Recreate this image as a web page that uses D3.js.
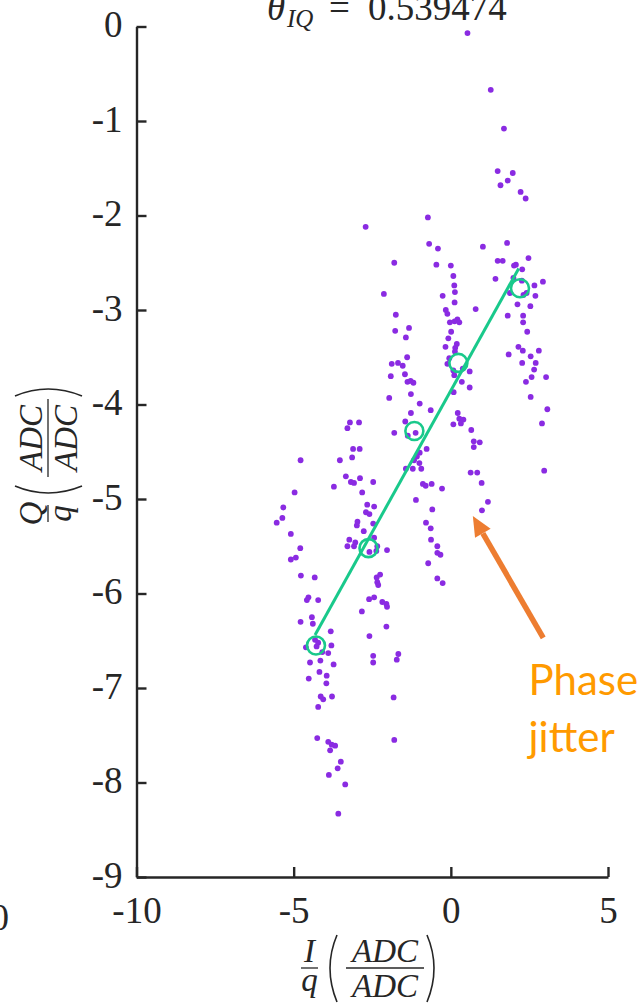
<!DOCTYPE html>
<html>
<head>
<meta charset="utf-8">
<script src="https://cdn.jsdelivr.net/npm/d3@7"></script>
<style>
  html, body { margin: 0; padding: 0; background: #fff; }
  svg { display: block; }
</style>
</head>
<body>
<svg id="chart" width="643" height="1005"></svg>
<script>
// Received samples, normalised in-phase (I) and quadrature (Q) components
const iVals = [
  0.53, 1.27, 1.69, 1.49, 1.97, 1.81, 1.58, 2.22, 2.38, -0.73,
  -2.71, -0.69, -0.41, 1.02, 1.79, -1.80, -0.46, 0.00, 1.49, 1.65,
  2.47, 2.01, 2.07, 2.27, 0.08, 1.42, 1.99, 2.26, 2.93, 2.66,
  0.11, 0.13, -2.13, -0.26, 1.88, 2.31, 2.41, 2.69, 0.12, 2.12,
  2.53, 0.79, -0.16, -0.11, -1.75, 1.81, 2.30, 0.21, 2.30, -0.03,
  0.12, 0.27, -1.33, -1.77, 2.43, 0.01, -1.43, -0.08, 0.19, 0.14,
  -0.17, 2.15, 2.29, 2.80, 0.13, -1.39, 1.84, 2.54, -0.05, -1.88,
  -1.68, -1.53, -0.11, 2.27, 2.70, 0.38, 0.60, 0.08, 2.65, -1.91,
  -1.46, 0.11, 2.57, 3.03, -1.38, -1.28, -1.19, 0.35, 2.39, 0.60,
  0.09, -1.27, -1.96, 2.54, -0.99, -0.64, 0.22, 3.07, -1.27, 0.27,
  0.40, 0.32, 0.08, -3.21, -3.29, -2.92, -1.45, 2.90, 0.65, -1.80,
  -1.12, -1.37, 0.73, 0.92, 0.73, -3.11, -2.90, -0.77, -0.99, -3.14,
  -1.08, -1.00, -4.78, -3.53, -1.17, -1.43, -1.21, -0.94, 0.63, 0.84,
  2.97, -3.34, -2.89, -3.18, -3.08, -2.47, -0.89, -0.80, -0.61, 0.98,
  -3.72, -0.28, -4.97, -2.82, -1.11, 1.18, -2.66, -2.44, -5.33, -0.59,
  0.99, -2.70, -2.59, -5.36, -5.54, -2.97, -2.99, -2.47, -0.79, -0.64,
  -2.77, -5.09, -2.44, -3.23, -3.04, -0.63, -3.29, -3.08, -2.34, -0.43,
  -4.79, -2.03, -2.59, -2.37, -0.43, -0.33, -5.09, -4.93, -0.72, -4.77,
  -4.33, -2.36, -2.25, -2.34, -2.31, -0.43, -0.26, -4.53, -4.22, -2.60,
  -2.44, -4.58, -2.18, -2.05, -2.03, -2.83, -4.78, -4.39, -4.42, -2.05,
  -3.82, -2.59, -4.32, -4.22, -4.27, -4.61, -3.80, -4.09, -3.90, -2.47,
  -2.47, -1.67, -1.72, -4.48, -4.15, -3.73, -4.18, -3.95, -4.52, -3.96,
  -4.14, -4.06, -3.78, -4.22, -1.82, -4.25, -3.90, -3.79, -3.68, -3.84,
  -1.80, -3.50, -3.60, -3.88, -3.36, -3.58
];
const qVals = [
  -0.07, -0.67, -1.08, -1.53, -1.55, -1.63, -1.68, -1.75, -1.82, -2.02,
  -2.12, -2.30, -2.35, -2.33, -2.29, -2.50, -2.52, -2.53, -2.48, -2.48,
  -2.45, -2.53, -2.52, -2.57, -2.64, -2.67, -2.66, -2.69, -2.70, -2.74,
  -2.74, -2.81, -2.83, -2.85, -2.82, -2.84, -2.82, -2.85, -2.92, -2.94,
  -2.96, -2.99, -3.00, -3.04, -3.05, -3.06, -3.06, -3.10, -3.13, -3.13,
  -3.12, -3.13, -3.19, -3.22, -3.23, -3.23, -3.29, -3.30, -3.36, -3.40,
  -3.39, -3.39, -3.43, -3.43, -3.44, -3.50, -3.47, -3.49, -3.51, -3.57,
  -3.56, -3.59, -3.57, -3.56, -3.56, -3.62, -3.65, -3.64, -3.63, -3.70,
  -3.68, -3.69, -3.71, -3.71, -3.76, -3.75, -3.77, -3.76, -3.76, -3.82,
  -3.87, -3.89, -3.93, -3.92, -3.99, -4.06, -4.09, -4.05, -4.09, -4.15,
  -4.16, -4.20, -4.21, -4.19, -4.25, -4.19, -4.18, -4.20, -4.27, -4.30,
  -4.30, -4.33, -4.39, -4.40, -4.45, -4.47, -4.47, -4.47, -4.51, -4.56,
  -4.55, -4.62, -4.59, -4.59, -4.59, -4.68, -4.68, -4.68, -4.72, -4.72,
  -4.70, -4.76, -4.78, -4.82, -4.83, -4.82, -4.84, -4.86, -4.84, -4.83,
  -4.87, -4.89, -4.93, -4.93, -5.01, -5.03, -5.06, -5.08, -5.09, -5.11,
  -5.12, -5.14, -5.16, -5.20, -5.25, -5.24, -5.28, -5.26, -5.25, -5.31,
  -5.34, -5.37, -5.41, -5.43, -5.46, -5.43, -5.50, -5.50, -5.50, -5.50,
  -5.52, -5.54, -5.56, -5.55, -5.57, -5.59, -5.64, -5.62, -5.68, -5.81,
  -5.83, -5.83, -5.80, -5.88, -5.91, -5.84, -5.89, -6.04, -6.07, -6.06,
  -6.04, -6.07, -6.09, -6.11, -6.14, -6.19, -6.30, -6.32, -6.25, -6.35,
  -6.40, -6.45, -6.49, -6.52, -6.56, -6.57, -6.55, -6.62, -6.63, -6.66,
  -6.73, -6.64, -6.70, -6.73, -6.71, -6.75, -6.83, -6.87, -6.90, -6.95,
  -7.09, -7.12, -7.09, -7.20, -7.10, -7.53, -7.57, -7.60, -7.61, -7.66,
  -7.55, -7.78, -7.85, -7.92, -8.02, -8.33
];

// Cluster centres (one per amplitude level)
const meanI = [-4.29, -2.62, -1.16, 0.24, 2.20];
const meanQ = [-6.55, -5.52, -4.28, -3.56, -2.77];

// Fitted IQ direction, end points of the drawn segment
const fitI = [-4.32, 2.16];
const fitQ = [-6.44, -2.56];

const xTicks = [-10, -5, 0, 5];
const yTicks = [0, -1, -2, -3, -4, -5, -6, -7, -8, -9];
const thetaLabel = "0.539474";

// Call-out arrow (tail -> head) and its text, in I/Q units
const arrowTail = [2.94, -6.47];
const arrowHead = [0.70, -5.18];
const noteLines = ["Phase", "jitter"];

const svg = d3.select("#chart");
const serif = "'Liberation Serif', 'DejaVu Serif', serif";
const ink = "#262626";

const x = d3.scaleLinear().domain([-10, 5]).range([136.5, 608]);
const y = d3.scaleLinear().domain([0, -9]).range([26.5, 877]);

// ---- axes (left + bottom only, ticks pointing inward)
const yAxis = d3.axisLeft(y).tickValues(yTicks).tickFormat(d => d === 0 ? "0" : "-" + Math.abs(d))
  .tickSizeInner(-10).tickSizeOuter(0).tickPadding(14);
const xAxis = d3.axisBottom(x).tickValues(xTicks).tickFormat(d => d < 0 ? "-" + Math.abs(d) : String(d))
  .tickSizeInner(-10).tickSizeOuter(0).tickPadding(0);

const gy = svg.append("g").attr("transform", `translate(${x(-10)},0)`).call(yAxis);
const gx = svg.append("g").attr("transform", `translate(0,${y(-9)})`).call(xAxis);

[gx, gy].forEach(g => {
  g.select(".domain").attr("stroke", ink).attr("stroke-width", 2.4);
  g.selectAll(".tick line").attr("stroke", ink).attr("stroke-width", 2.4);
  g.selectAll(".tick text").attr("fill", ink).attr("font-family", serif).attr("font-size", 37);
});
gy.selectAll(".tick text").attr("dy", 0).attr("y", 10);
gx.selectAll(".tick text").attr("dy", 0).attr("y", 46);

// stray tick label of the neighbouring panel at the left edge
svg.append("text").attr("x", 9).attr("y", 930).attr("text-anchor", "end")
  .attr("font-family", serif).attr("font-size", 37).attr("fill", ink).text("0");

// ---- samples
svg.append("g").selectAll("circle").data(iVals.map((v, k) => [v, qVals[k]]))
  .join("circle")
  .attr("cx", d => x(d[0])).attr("cy", d => y(d[1])).attr("r", 2.9)
  .attr("fill", "#8a2be2");

// ---- fitted line and centres
const green = "#19c98b";
svg.append("path")
  .attr("d", d3.line()(fitI.map((v, k) => [x(v), y(fitQ[k])])))
  .attr("stroke", green).attr("stroke-width", 3).attr("fill", "none");
svg.append("g").selectAll("circle").data(meanI.map((v, k) => [v, meanQ[k]]))
  .join("circle")
  .attr("cx", d => x(d[0])).attr("cy", d => y(d[1])).attr("r", 9)
  .attr("fill", "none").attr("stroke", green).attr("stroke-width", 2.6);

// ---- title  θ_IQ = 0.539474
const title = svg.append("g").attr("fill", ink).attr("font-family", serif);
title.append("text").attr("x", 267).attr("y", 20).attr("font-size", 37).attr("font-style", "italic").text("θ");
title.append("text").attr("x", 287).attr("y", 27).attr("font-size", 25).attr("font-style", "italic").text("IQ");
title.append("text").attr("x", 329).attr("y", 20).attr("font-size", 37).text("=");
title.append("text").attr("x", 368).attr("y", 20).attr("font-size", 37).text(thetaLabel);

// ---- LaTeX-like axis labels: N/q ( ADC/ADC )
function fracLabel(g, letter) {
  g.attr("fill", ink).attr("font-family", serif).attr("font-style", "italic");
  const fs = 33;
  g.append("text").attr("x", 8.5).attr("y", -6).attr("text-anchor", "middle").attr("font-size", fs).text(letter);
  g.append("line").attr("x1", 0).attr("x2", 17).attr("y1", 0).attr("y2", 0).attr("stroke", ink).attr("stroke-width", 1.3);
  g.append("text").attr("x", 8.5).attr("y", 23).attr("text-anchor", "middle").attr("font-size", fs).text("q");
  // big delimiters
  g.append("path").attr("d", "M36,-33 Q22,0 36,34").attr("fill", "none").attr("stroke", ink).attr("stroke-width", 1.6);
  g.append("path").attr("d", "M126,-33 Q140,0 126,34").attr("fill", "none").attr("stroke", ink).attr("stroke-width", 1.6);
  g.append("text").attr("x", 84).attr("y", -6).attr("text-anchor", "middle").attr("font-size", fs).text("ADC");
  g.append("line").attr("x1", 45).attr("x2", 123).attr("y1", 0).attr("y2", 0).attr("stroke", ink).attr("stroke-width", 1.3);
  g.append("text").attr("x", 84).attr("y", 29).attr("text-anchor", "middle").attr("font-size", fs).text("ADC");
}
fracLabel(svg.append("g").attr("transform", "translate(301,968)"), "I");
fracLabel(svg.append("g").attr("transform", "translate(48,522) rotate(-90)"), "Q");

// ---- call-out
const orange = "#ed7d31";
const tx = x(arrowTail[0]), ty = y(arrowTail[1]);
const hx = x(arrowHead[0]), hy = y(arrowHead[1]);
const ang = Math.atan2(hy - ty, hx - tx);
const headLen = 20, headHalf = 9;
const bx = hx - headLen * Math.cos(ang), by = hy - headLen * Math.sin(ang);
svg.append("line").attr("x1", tx).attr("y1", ty).attr("x2", bx).attr("y2", by)
  .attr("stroke", orange).attr("stroke-width", 5.5);
svg.append("path")
  .attr("d", `M${hx},${hy} L${bx + headHalf * Math.sin(ang)},${by - headHalf * Math.cos(ang)} L${bx - headHalf * Math.sin(ang)},${by + headHalf * Math.cos(ang)} Z`)
  .attr("fill", orange);

svg.append("g").selectAll("text").data(noteLines).join("text")
  .attr("x", x(2.47)).attr("y", (d, k) => 695 + k * 57)
  .attr("font-family", "Lato, 'Open Sans', sans-serif").attr("font-size", 42)
  .attr("fill", "#ff9a00").text(d => d);
</script>
</body>
</html>
